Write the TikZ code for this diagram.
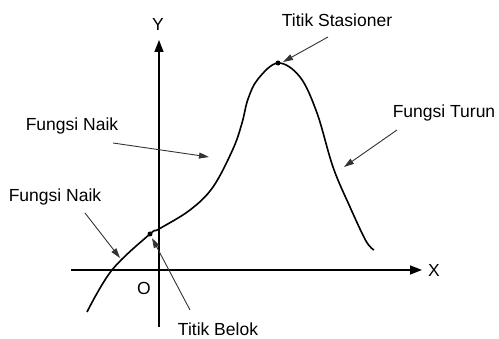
\documentclass[tikz,border=0pt]{standalone}
\usepackage{fontspec}
\setmainfont{Liberation Sans}
\usetikzlibrary{arrows.meta}
\begin{document}
\begin{tikzpicture}[x=1pt,y=1pt,
  lbl/.style={font=\fontsize{17.5}{20}\selectfont, inner sep=0pt},
  axis/.style={line width=1.6pt, -{Triangle[length=12pt,width=9pt]}},
  pointer/.style={line width=0.9pt, draw=black!80, -{Triangle[length=10pt,width=6pt]}},
  curve/.style={line width=1.6pt},
  dot/.style={circle, fill=black, inner sep=0pt, minimum size=5pt}]
\useasboundingbox (0,0) rectangle (499,339);
% axes
\coordinate (xs) at (71,69);
\coordinate (xe) at (422,69);
\coordinate (ys) at (159,12);
\coordinate (ye) at (159,299);
\draw[axis] (xs) -- (xe);
\draw[axis] (ys) -- (ye);
\node[lbl] (xl) at (434,69) {X};
\node[lbl] (yl) at (158,315) {Y};
\node[lbl] (ol) at (144,51) {O};
% curve
\draw[curve] plot[smooth, tension=0.6] coordinates {(87,27) (112,69) (150,105) (159,110) (190,129) (213,152) (233,190) (242,216) (248,240) (258,260) (278,276) (300,262) (317,226) (333,172) (350,132) (366,98) (374,89)};
\node[dot] (tb) at (150,105) {};
\node[dot] (ts) at (278,276) {};
% labels
\node[lbl] (lts) at (337,319) {Titik Stasioner};
\node[lbl] (lft) at (444,226) {Fungsi Turun};
\node[lbl] (lfn1) at (72,213) {Fungsi Naik};
\node[lbl] (lfn2) at (55,142) {Fungsi Naik};
\node[lbl] (ltb) at (218,10) {Titik Belok};
% pointer ends
\coordinate (a1s) at (328,302);
\coordinate (a1e) at (283,277);
\coordinate (a2s) at (397,209);
\coordinate (a2e) at (344,172);
\coordinate (a3s) at (113,196);
\coordinate (a3e) at (209,182);
\coordinate (a4s) at (85,126);
\coordinate (a4e) at (120,81);
\coordinate (a5s) at (190,29);
\coordinate (a5e) at (152,101);
\draw[pointer] (a1s) -- (a1e);
\draw[pointer] (a2s) -- (a2e);
\draw[pointer] (a3s) -- (a3e);
\draw[pointer] (a4s) -- (a4e);
\draw[pointer] (a5s) -- (a5e);
\end{tikzpicture}
\end{document}
